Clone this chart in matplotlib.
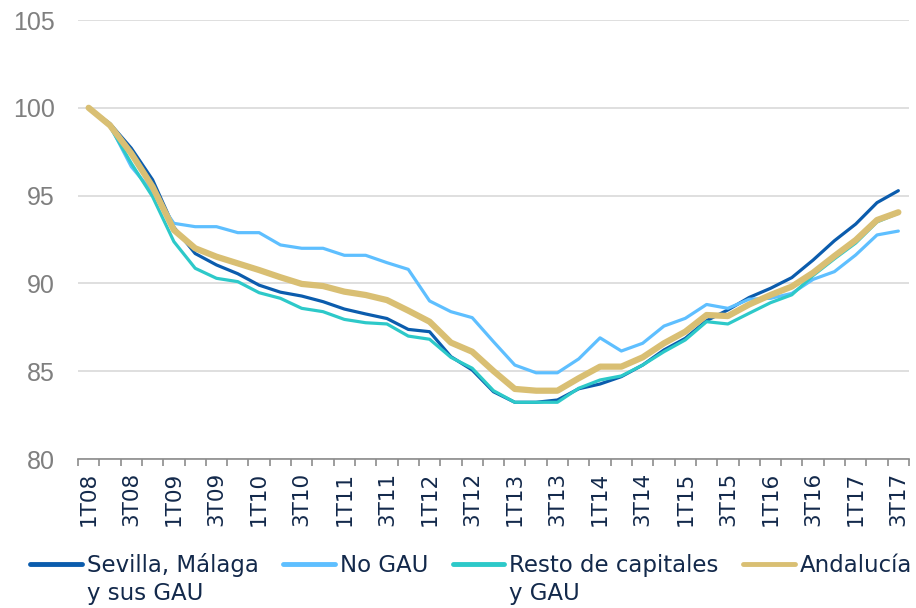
import numpy as np
import matplotlib
matplotlib.use("Agg")
import matplotlib.pyplot as plt

# quarters 1T08 .. 3T17
quarters = [f"{q}T{y:02d}" for y in range(8, 18) for q in range(1, 5)][:39]

sevilla_malaga = [100.0, 99.1, 97.7, 95.9, 93.2, 91.7, 91.05, 90.55, 89.9, 89.5,
                  89.28, 88.96, 88.54, 88.26, 88.0, 87.38, 87.25, 85.83, 85.07, 83.83,
                  83.23, 83.23, 83.36, 84.0, 84.27, 84.69, 85.35, 86.21, 86.87, 87.88,
                  88.49, 89.2, 89.72, 90.33, 91.33, 92.43, 93.38, 94.6, 95.28]
no_gau = [100.0, 99.0, 96.65, 95.2, 93.42, 93.23, 93.23, 92.89, 92.89, 92.19,
          92.0, 92.0, 91.6, 91.6, 91.18, 90.8, 89.0, 88.39, 88.05, 86.68,
          85.35, 84.91, 84.91, 85.7, 86.9, 86.15, 86.59, 87.57, 88.01, 88.8,
          88.58, 89.1, 89.15, 89.43, 90.23, 90.67, 91.62, 92.76, 92.98]
resto_capitales = [100.0, 98.93, 96.84, 94.94, 92.38, 90.86, 90.29, 90.1, 89.47, 89.15,
                   88.58, 88.39, 87.95, 87.76, 87.69, 87.0, 86.82, 85.79, 85.17, 83.89,
                   83.23, 83.23, 83.23, 84.03, 84.5, 84.73, 85.35, 86.11, 86.78, 87.82,
                   87.69, 88.3, 88.9, 89.35, 90.45, 91.4, 92.3, 93.5, 94.0]
andalucia = [100.0, 99.0, 97.4, 95.5, 93.04, 92.0, 91.52, 91.14, 90.76, 90.35,
             89.97, 89.85, 89.53, 89.34, 89.05, 88.45, 87.82, 86.63, 86.11, 85.01,
             83.99, 83.89, 83.89, 84.6, 85.26, 85.26, 85.79, 86.59, 87.25, 88.2,
             88.14, 88.8, 89.34, 89.82, 90.61, 91.56, 92.47, 93.61, 94.05]

# legend labels: first line in the legend, second line written below it
labels = ["Sevilla, Málaga", "No GAU", "Resto de capitales", "Andalucía"]
labels_2nd = ["y sus GAU", "", "y GAU", ""]
colors = ["#0b5cad", "#5ebfff", "#2dc9c9", "#d9bf73"]
widths = [2.3, 2.3, 2.3, 4.5]
series = [sevilla_malaga, no_gau, resto_capitales, andalucia]

navy = "#13294b"

fig = plt.figure(figsize=(9.16, 6.08), dpi=100)
ax = fig.add_axes([78 / 916, 149 / 608, 831 / 916, 439 / 608])

x = np.arange(len(quarters))
for vals, lab, c, lw in zip(series, labels, colors, widths):
    ax.plot(x, vals, color=c, lw=lw, label=lab, solid_capstyle="round",
            solid_joinstyle="round")

ax.set_xlim(-0.5, len(quarters) - 0.5)
ax.set_ylim(80, 105)
ax.set_yticks([80, 85, 90, 95, 100, 105])
ax.yaxis.grid(True, color="#d9d9d9", lw=1.2)
ax.set_axisbelow(True)
for s in ["left", "right", "top"]:
    ax.spines[s].set_visible(False)
ax.spines["bottom"].set_color("#8c8c8c")
ax.spines["bottom"].set_linewidth(1.2)

ax.tick_params(axis="y", length=0, pad=16.5, labelsize=18, labelcolor="#7f7f7f",
               labelfontfamily="Liberation Sans")

ax.set_xticks(x[::2])
ax.set_xticklabels(quarters[::2], rotation=90, fontsize=15.5, color=navy,
                   family="DejaVu Sans")
ax.set_xticks(np.arange(-0.5, len(quarters)), minor=True)
ax.tick_params(axis="x", which="major", length=0, pad=9)
ax.tick_params(axis="x", which="minor", length=5, width=1.2, color="#8c8c8c")

leg = fig.legend(loc="upper left", bbox_to_anchor=(30 / 916, 0.0905), ncol=4,
                 frameon=False, borderpad=0, borderaxespad=0,
                 handlelength=2.26, handletextpad=0.22, columnspacing=1.06,
                 prop={"family": "DejaVu Sans", "size": 16.5})
for h in leg.get_lines():
    h.set_linewidth(3.5)

fig.canvas.draw()
inv = fig.transFigure.inverted()
for t, extra in zip(leg.get_texts(), labels_2nd):
    t.set_color(navy)
    if extra:
        bb = t.get_window_extent()
        x0, y0 = inv.transform((bb.x0, bb.y0 - 28))
        fig.text(x0, y0, extra, color=navy, family="DejaVu Sans", size=16.5,
                 va="bottom", ha="left")

fig.savefig("out.png", dpi=100)
